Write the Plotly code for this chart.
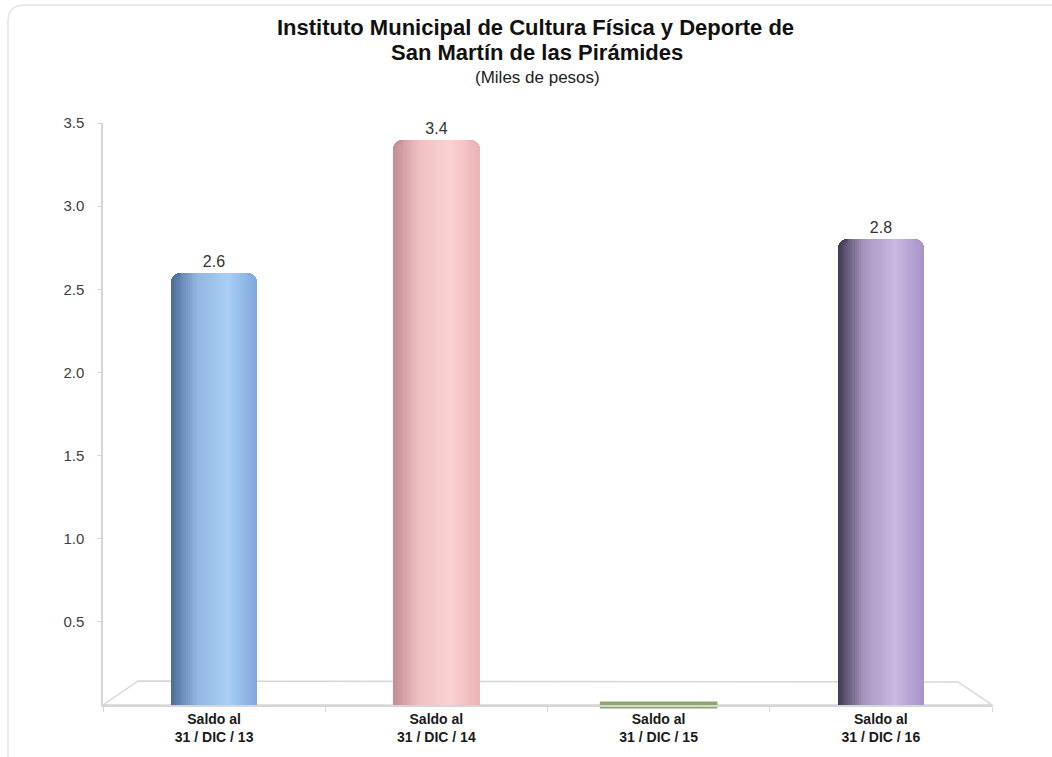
import plotly.graph_objects as go

# ---- data ----
categories = ["Saldo al<br>31 / DIC / 13", "Saldo al<br>31 / DIC / 14",
              "Saldo al<br>31 / DIC / 15", "Saldo al<br>31 / DIC / 16"]
values = [2.6, 3.4, 0.0, 2.8]
value_labels = ["2.6", "3.4", "", "2.8"]
y_ticks = [0.5, 1.0, 1.5, 2.0, 2.5, 3.0, 3.5]

title_line1 = "Instituto Municipal de Cultura Física y Deporte de"
title_line2 = "San Martín de las Pirámides"
subtitle = "(Miles de pesos)"

# ---- styling ----
W, H = 1052, 757
ML, MR, MT, MB = 103, 60, 123, 52
PW, PH = W - ML - MR, H - MT - MB

# per-bar cylinder colours: (left edge dark, highlight, right edge)
bar_shades = [
    ("#4b6a98", "#a9cff7", "#7fa7d9"),
    ("#c58c93", "#fcd2d2", "#e9b2b4"),
    ("#8ca66e", "#8ca66e", "#8ca66e"),
    ("#3c3550", "#cab7e2", "#a793c6"),
]
cap_colors = ["#8ca66e" if v == 0 else "rgba(0,0,0,0)" for v in values]


def hex2rgb(h):
    h = h.lstrip("#")
    return [int(h[i:i + 2], 16) for i in (0, 2, 4)]


def mix_hex(c1, c2, t):
    a, b = hex2rgb(c1), hex2rgb(c2)
    return "#%02x%02x%02x" % tuple(round(a[i] + (b[i] - a[i]) * t) for i in range(3))


def shade(dark, light, right, t):
    mid = mix_hex(dark, light, 0.75)
    if t < 0.3:
        return mix_hex(dark, mid, t / 0.3)
    if t < 0.66:
        return mix_hex(mid, light, (t - 0.3) / 0.36)
    return mix_hex(light, right, (t - 0.66) / 0.34)


def colors_at(t):
    return [shade(d, l, r, t) for d, l, r in bar_shades]


def px2paper_x(px):
    return (px - ML) / PW


def px2paper_y(py):
    return (H - MB - py) / PH


fig = go.Figure()

BAR_W = 0.39          # in category units (~87 px)
RADIUS = 9            # px, rounded top rim of the cylinders
EDGE = 0.12           # fraction of bar width handled by rounded edge layers
K = 6


def add_slice(t0, t1, t_col, radius=None):
    fig.add_trace(go.Bar(
        x=categories, y=values,
        offset=-BAR_W / 2 + t0 * BAR_W, width=(t1 - t0) * BAR_W,
        marker=dict(color=colors_at(t_col), line=dict(width=0),
                    cornerradius=radius if radius else 0),
        hoverinfo="skip", showlegend=False,
    ))


# left rim layers (rounded)
for i in range(K):
    a = EDGE * i / K
    add_slice(a, 0.5, a + EDGE / K / 2, RADIUS)
# right rim layers (rounded)
for j in range(K):
    b = 1 - EDGE * j / K
    add_slice(0.5, b, b - EDGE / K / 2, RADIUS)
# flat interior slices
N = 30
step = (1 - 2 * EDGE) / N
for i in range(N):
    t0 = EDGE + i * step
    add_slice(t0, t0 + step * 1.08, t0 + step / 2)

# value labels
fig.add_trace(go.Bar(
    x=categories, y=values, width=BAR_W,
    marker=dict(color="rgba(0,0,0,0)", line=dict(width=0)),
    text=value_labels, textposition="outside", constraintext="none",
    textfont=dict(family="Liberation Sans, Arial", size=16, color="#333333"),
    cliponaxis=False, showlegend=False, hoverinfo="skip",
))

# flat cap for the zero-height bar
fig.add_trace(go.Scatter(
    x=categories, y=values, mode="markers", cliponaxis=False,
    marker=dict(symbol="line-ew", size=84, line=dict(width=7, color=cap_colors)),
    showlegend=False, hoverinfo="skip",
))

# 3D-like floor
floor = [(103, 705), (138, 681), (958, 682), (992, 705)]
path = "M " + " L ".join("%f,%f" % (px2paper_x(x), px2paper_y(y)) for x, y in floor) + " Z"
shapes = [dict(type="path", xref="paper", yref="paper", path=path,
               line=dict(color="#d6d6d6", width=1.5), fillcolor="rgba(0,0,0,0)", layer="below")]
# rounded outer frame (top-left visible)
fx = px2paper_x
fy = px2paper_y
frame = "M %f,%f L %f,%f Q %f,%f %f,%f L %f,%f" % (
    fx(8), fy(757), fx(8), fy(22), fx(8), fy(5), fx(25), fy(5), fx(1052), fy(5))
shapes.append(dict(type="path", xref="paper", yref="paper", path=frame,
                   line=dict(color="#e3e3e3", width=1.5), layer="below"))

title_font = "Liberation Sans, Arial, sans-serif"
annotations = [
    dict(text="<b>%s</b>" % title_line1, x=px2paper_x(535), y=px2paper_y(28),
         font=dict(family=title_font, size=22, color="#111111")),
    dict(text="<b>%s</b>" % title_line2, x=px2paper_x(537), y=px2paper_y(53),
         font=dict(family=title_font, size=22, color="#111111")),
    dict(text=subtitle, x=px2paper_x(537), y=px2paper_y(77),
         font=dict(family=title_font, size=17, color="#222222")),
]
for a in annotations:
    a.update(xref="paper", yref="paper", showarrow=False, xanchor="center", yanchor="middle")

fig.update_layout(
    width=W, height=H, margin=dict(l=ML, r=MR, t=MT, b=MB, pad=0),
    barmode="overlay", bargap=0,
    paper_bgcolor="white", plot_bgcolor="rgba(0,0,0,0)",
    shapes=shapes, annotations=annotations,
    font=dict(family=title_font),
)
fig.update_xaxes(
    type="category", tickson="boundaries", ticks="outside", ticklen=5,
    tickcolor="#d6d6d6", showline=True, linecolor="#d6d6d6", linewidth=1.5,
    showgrid=False, zeroline=False,
    tickfont=dict(family="Liberation Sans Narrow, Arial Narrow, Liberation Sans, Arial",
                  size=14, color="#1a1a1a", weight="bold"),
)
fig.update_yaxes(
    range=[0, 3.5], tickvals=y_ticks, tickformat=".1f", ticks="outside", ticklen=4,
    tickcolor="#d6d6d6", showline=True, linecolor="#d6d6d6", linewidth=1.5,
    showgrid=False, zeroline=False, ticklabelstandoff=10,
    tickfont=dict(family="Liberation Sans, Arial", size=15, color="#404040"),
)

fig.write_html("out.html", config={"displayModeBar": False},
               post_script="document.body.style.margin='0';")
